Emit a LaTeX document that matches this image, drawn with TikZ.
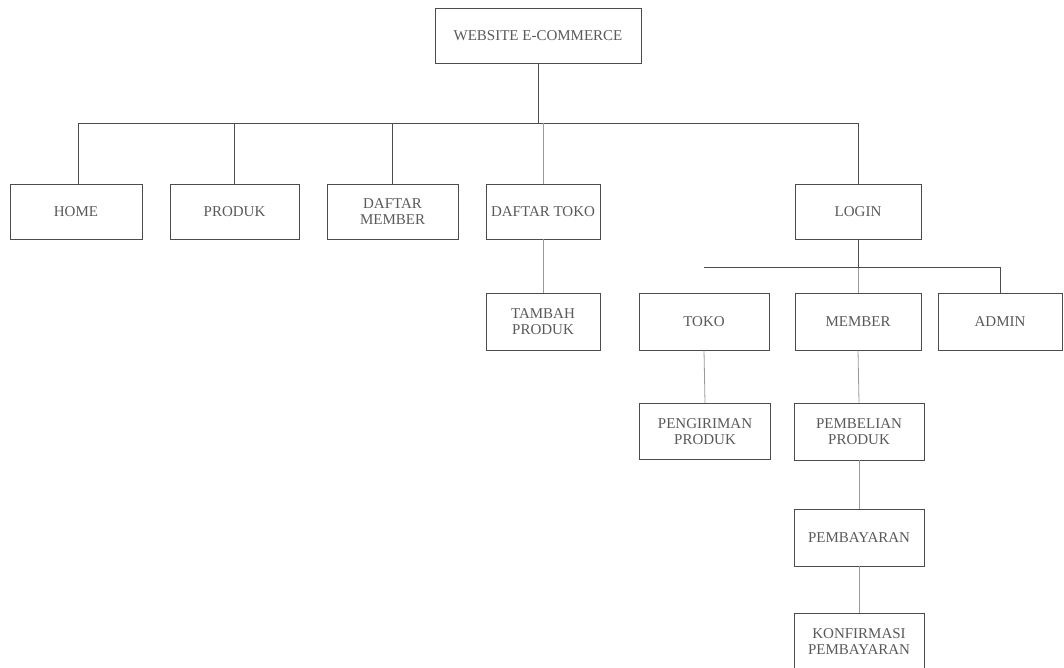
\documentclass[tikz,border=0pt]{standalone}
\usepackage{fontspec}
\setmainfont{Liberation Serif}
\begin{document}
\begin{tikzpicture}[x=1pt,y=1pt,
  box/.style={draw=black!70,line width=0.9pt,rectangle,inner sep=0pt,
    minimum height=55pt,align=center,text=black!65,
    font=\fontsize{15}{16}\selectfont},
  link/.style={draw=black!70,line width=0.9pt},
  faint/.style={draw=black!40,line width=0.8pt}]
\useasboundingbox (0,0) rectangle (1064,-667);
\begin{scope}
\clip (0,0) rectangle (1064,-667);
\node[box,minimum width=206pt] (web) at (538,-35.5) {WEBSITE E-COMMERCE};
\node[box,minimum width=132pt] (home) at (76,-211.5) {HOME};
\node[box,minimum width=129pt] (produk) at (234.5,-211.5) {PRODUK};
\node[box,minimum width=131pt] (dmember) at (392.5,-211.5) {DAFTAR\\MEMBER};
\node[box,minimum width=114pt] (dtoko) at (543,-211.5) {DAFTAR TOKO};
\node[box,minimum width=126pt] (login) at (858,-211.5) {LOGIN};
\node[box,minimum width=114pt,minimum height=57pt] (tambah) at (543,-321.5) {TAMBAH\\PRODUK};
\node[box,minimum width=130pt,minimum height=57pt] (toko) at (704,-321.5) {TOKO};
\node[box,minimum width=126pt,minimum height=57pt] (member) at (858,-321.5) {MEMBER};
\node[box,minimum width=124pt,minimum height=57pt] (admin) at (1000,-321.5) {ADMIN};
\node[box,minimum width=131pt,minimum height=56pt] (kirim) at (705,-431.5) {PENGIRIMAN\\PRODUK};
\node[box,minimum width=130pt,minimum height=57pt] (beli) at (859,-431.5) {PEMBELIAN\\PRODUK};
\node[box,minimum width=130pt,minimum height=57pt] (bayar) at (859,-537.5) {PEMBAYARAN};
\node[box,minimum width=130pt,minimum height=57pt] (konf) at (859,-641.5) {KONFIRMASI\\PEMBAYARAN};

\draw[link] (web.south) -- ++(0,-60) coordinate (bus);
\draw[link] (home.north -| 78,0) |- (bus);
\draw[link] (login.north) |- (bus);
\draw[link] (produk.north) -- (produk.north |- bus);
\draw[link] (dmember.north) -- (dmember.north |- bus);
\draw[faint] (dtoko.north) -- (dtoko.north |- bus);
\draw[faint] (dtoko.south) -- (tambah.north);

\draw[link] (login.south) -- ++(0,-28) coordinate (lb);
\draw[faint] (lb) -- (member.north);
\draw[link] (toko.north |- lb) -- (lb) -- (admin.north |- lb) -- (admin.north);
\draw[faint] (toko.south) -- (kirim.north);
\draw[faint] (member.south) -- (beli.north);
\draw[faint] (beli.south) -- (bayar.north);
\draw[faint] (bayar.south) -- (konf.north);
\end{scope}
\end{tikzpicture}
\end{document}
